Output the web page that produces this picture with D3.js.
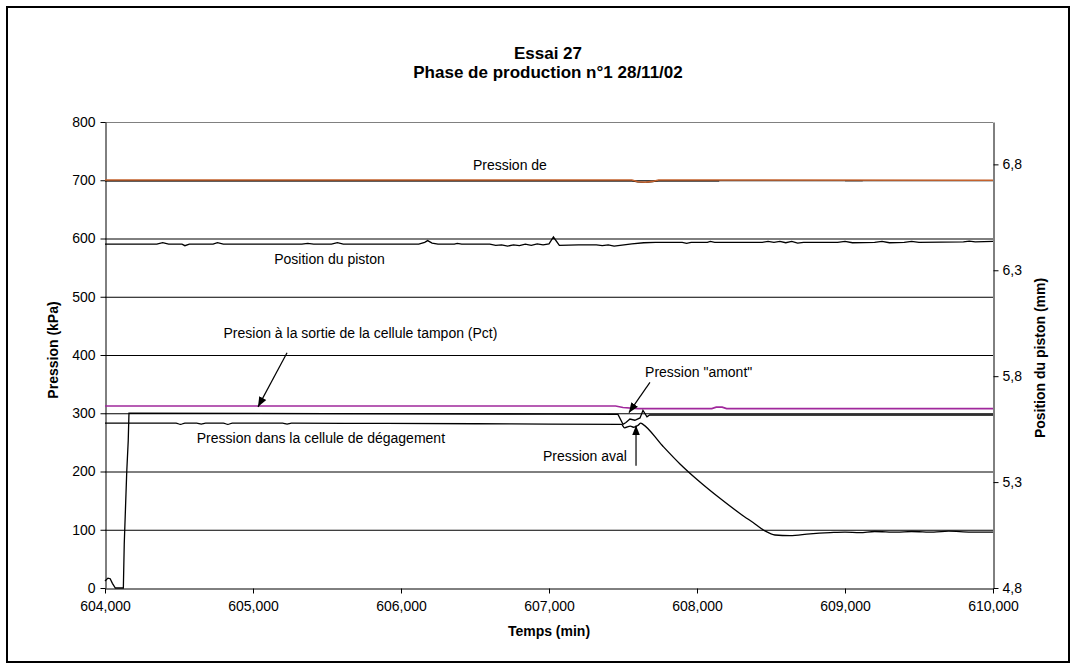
<!DOCTYPE html>
<html>
<head>
<meta charset="utf-8">
<script src="https://cdn.jsdelivr.net/npm/d3@7"></script>
<style>
  body { margin: 0; background: #fff; }
  text { font-family: "Liberation Sans", Arial, sans-serif; }
</style>
</head>
<body>
<script>
// tick values
const xTicks = [604, 605, 606, 607, 608, 609, 610];
const yTicks = [0, 100, 200, 300, 400, 500, 600, 700, 800];
const rTicks = [4.8, 5.3, 5.8, 6.3, 6.8];

// series : [temps (min), valeur]
// Pression de (orange) - kPa
const pressionDe = [[604.0, 700.5], [607.56, 700.5], [607.60, 697.5], [607.65, 696.5], [607.70, 698],
  [607.74, 700.5], [610.0, 700]];
// trace noire sous la pression de - kPa (NaN = interruption)
const pressionDeNoir = [[604.0, 699], [607.56, 699], [607.60, 697], [607.65, 696.5], [607.70, 697.5],
  [607.74, 699], [608.15, 699], [608.16, NaN], [609.0, 699.5], [609.12, 699.5]];
// Pct (magenta) - kPa
const pct = [[604.0, 312.5], [607.45, 312.5], [607.50, 310], [607.60, 308], [608.10, 308],
  [608.13, 310.5], [608.17, 310.5], [608.20, 308], [610.0, 308]];
// Pression "amont" - kPa
const amont = [[604.0, 12], [604.02, 17], [604.035, 16], [604.05, 8], [604.07, 0], [604.124, 0],
  [604.130, 75], [604.147, 200], [604.157, 253], [604.162, 300], [605.5, 299.5], [607.0, 298.5],
  [607.466, 298], [607.50, 281], [607.52, 284], [607.547, 290], [607.58, 288], [607.615, 292],
  [607.635, 305], [607.662, 294], [607.68, 297], [610.0, 297]];
// Pression aval (cellule de dégagement) - kPa
const aval = [[604.0, 283], [604.48, 283], [604.51, 281], [604.54, 283], [604.62, 283], [604.65, 281.5],
  [604.68, 283], [604.80, 283], [604.83, 281], [604.86, 283], [605.2, 283], [605.23, 281.5],
  [605.26, 283], [605.9, 282.5], [606.5, 282], [607.0, 281.5], [607.49, 281], [607.51, 275],
  [607.55, 278], [607.57, 276], [607.60, 279], [607.62, 283], [607.635, 281], [607.764, 245],
  [607.885, 213], [608.02, 182], [608.155, 154], [608.29, 128], [608.392, 110], [608.459, 98],
  [608.527, 91], [608.628, 90], [608.764, 93], [608.90, 95], [609.0, 96], [609.1, 95],
  [609.2, 97], [609.35, 96], [609.45, 97], [609.6, 96], [609.7, 97.5], [609.85, 96], [610.0, 96]];
// Position du piston - mm (axe de droite)
const piston = [[604.00, 6.423], [604.35, 6.423], [604.39, 6.430], [604.43, 6.423], [604.52, 6.423],
  [604.54, 6.416], [604.57, 6.423], [604.73, 6.423], [604.76, 6.430], [604.80, 6.423], [605.33, 6.423],
  [605.37, 6.427], [605.41, 6.423], [605.53, 6.423], [605.57, 6.430], [605.61, 6.423], [606.12, 6.423],
  [606.16, 6.432], [606.18, 6.440], [606.21, 6.428], [606.25, 6.423], [606.36, 6.423], [606.38, 6.427],
  [606.41, 6.423], [606.60, 6.423], [606.64, 6.418], [606.68, 6.420], [606.72, 6.414], [606.76, 6.420],
  [606.80, 6.416], [606.84, 6.423], [606.88, 6.418], [606.92, 6.425], [606.96, 6.420], [607.00, 6.425],
  [607.03, 6.457], [607.07, 6.418], [607.20, 6.420], [607.32, 6.420], [607.36, 6.416], [607.40, 6.420],
  [607.44, 6.414], [607.48, 6.418], [607.56, 6.425], [607.64, 6.430], [607.72, 6.432], [607.90, 6.432],
  [607.93, 6.427], [607.96, 6.432], [608.07, 6.432], [608.09, 6.436], [608.12, 6.432], [608.44, 6.432],
  [608.48, 6.436], [608.52, 6.432], [608.56, 6.436], [608.60, 6.430], [608.64, 6.436], [608.68, 6.428],
  [608.72, 6.432], [608.95, 6.432], [609.00, 6.436], [609.05, 6.430], [609.20, 6.432], [609.25, 6.436],
  [609.30, 6.430], [609.40, 6.432], [609.45, 6.436], [609.50, 6.432], [609.80, 6.434], [609.84, 6.438],
  [609.88, 6.434], [610.00, 6.436]];

// annotations (coordonnées en temps / kPa)
const labels = [
  { text: "Pression de", t: 606.736, p: 726, anchor: "middle" },
  { text: "Position du piston", t: 605.517, p: 564, anchor: "middle" },
  { text: "Presion à la sortie de la cellule tampon (Pct)", t: 605.726, p: 437, anchor: "middle" },
  { text: "Pression \"amont\"", t: 607.649, p: 370, anchor: "start" },
  { text: "Pression aval", t: 607.527, p: 227, anchor: "end" },
  { text: "Pression dans la cellule de dégagement", t: 604.62, p: 258, anchor: "start" }
];
const arrows = [
  { t1: 605.23, p1: 404, t2: 605.034, p2: 311 },
  { t1: 607.682, p1: 353, t2: 607.54, p2: 301 },
  { t1: 607.588, p1: 210, t2: 607.588, p2: 279 }
];

const width = 1078, height = 671;
const margin = { top: 122, bottom: 83, left: 105, right: 85 };

const fr = d3.formatLocale({ decimal: ",", thousands: " ", grouping: [3], currency: ["", " €"] });
const fmt3 = fr.format(".3f"), fmt1 = fr.format(".1f");

const svg = d3.select("body").append("svg").attr("width", width).attr("height", height);

svg.append("rect").attr("x", 7).attr("y", 7).attr("width", 1062).attr("height", 655)
   .attr("fill", "none").attr("stroke", "#000").attr("stroke-width", 2);

const xScale = d3.scaleLinear().domain([604, 610]).range([margin.left, width - margin.right]);
const yScale = d3.scaleLinear().domain([0, 800]).range([height - margin.bottom, margin.top]);
const rScale = d3.scaleLinear().domain([4.8, 7.0]).range([height - margin.bottom, margin.top]);

// gridlines
svg.append("g").selectAll("line").data(yTicks.filter(d => d > 0)).enter().append("line")
   .attr("x1", margin.left).attr("x2", width - margin.right)
   .attr("y1", d => yScale(d) + 0.5).attr("y2", d => yScale(d) + 0.5)
   .attr("stroke", d => d == 800 ? "#808080" : "#000").attr("stroke-width", 1);

// axes
const axisStyle = g => {
  g.selectAll("text").style("font-size", "14px").attr("fill", "#000");
  g.selectAll("line").attr("stroke", "#000");
  g.select(".domain").attr("stroke", "#000");
};
svg.append("g").attr("transform", `translate(0,${height - margin.bottom + 0.5})`)
   .call(d3.axisBottom(xScale).tickValues(xTicks).tickFormat(fmt3).tickSize(5).tickSizeOuter(0).tickPadding(8))
   .call(axisStyle);
svg.append("g").attr("transform", `translate(${margin.left + 0.5},0)`)
   .call(d3.axisLeft(yScale).tickValues(yTicks).tickSize(5).tickSizeOuter(0).tickPadding(5))
   .call(axisStyle);
svg.append("g").attr("transform", `translate(${width - margin.right + 0.5},0)`)
   .call(d3.axisRight(rScale).tickValues(rTicks).tickFormat(fmt1).tickSize(5).tickSizeOuter(0).tickPadding(4))
   .call(axisStyle);

// lines
const lineL = d3.line().defined(d => !isNaN(d[1])).x(d => xScale(d[0])).y(d => yScale(d[1]));
const lineR = d3.line().x(d => xScale(d[0])).y(d => rScale(d[1]));
const lineSmooth = d3.line().x(d => xScale(d[0])).y(d => yScale(d[1])).curve(d3.curveMonotoneX);

svg.append("path").datum(pressionDeNoir).attr("d", lineL).attr("fill", "none")
   .attr("stroke", "#000").attr("stroke-width", 1.2);
svg.append("path").datum(pressionDe).attr("d", lineL).attr("fill", "none")
   .attr("stroke", "#c4622d").attr("stroke-width", 1.6);
svg.append("path").datum(pct).attr("d", lineL).attr("fill", "none")
   .attr("stroke", "#a0289c").attr("stroke-width", 1.6);
svg.append("path").datum(amont).attr("d", lineL).attr("fill", "none")
   .attr("stroke", "#000").attr("stroke-width", 1.3);
svg.append("path").datum(aval).attr("d", lineSmooth).attr("fill", "none")
   .attr("stroke", "#000").attr("stroke-width", 1.3);
svg.append("path").datum(piston).attr("d", lineR).attr("fill", "none")
   .attr("stroke", "#000").attr("stroke-width", 1.3);

// annotations
svg.append("defs").append("marker").attr("id", "head")
   .attr("viewBox", "0 0 10 10").attr("refX", 10).attr("refY", 5)
   .attr("markerWidth", 10).attr("markerHeight", 10).attr("markerUnits", "userSpaceOnUse")
   .attr("orient", "auto")
   .append("path").attr("d", "M0,1 L10,5 L0,9 Z").attr("fill", "#000");

svg.append("g").selectAll("line").data(arrows).enter().append("line")
   .attr("x1", d => xScale(d.t1)).attr("y1", d => yScale(d.p1))
   .attr("x2", d => xScale(d.t2)).attr("y2", d => yScale(d.p2))
   .attr("stroke", "#000").attr("stroke-width", 1.2).attr("marker-end", "url(#head)");

svg.append("g").selectAll("text").data(labels).enter().append("text")
   .attr("x", d => xScale(d.t)).attr("y", d => yScale(d.p)).attr("dy", "0.35em")
   .attr("text-anchor", d => d.anchor).style("font-size", "14px").text(d => d.text);

// titles
const title = svg.append("text").attr("text-anchor", "middle").style("font-size", "17px")
   .style("font-weight", "bold").attr("x", 548);
title.append("tspan").attr("x", 548).attr("y", 59).text("Essai 27");
title.append("tspan").attr("x", 548).attr("y", 78).text("Phase de production n°1 28/11/02");

svg.append("text").attr("x", 549).attr("y", 636).attr("text-anchor", "middle")
   .style("font-size", "14px").style("font-weight", "bold").text("Temps (min)");
svg.append("text").attr("transform", "translate(58,350) rotate(-90)").attr("text-anchor", "middle")
   .style("font-size", "14px").style("font-weight", "bold").text("Pression (kPa)");
svg.append("text").attr("transform", "translate(1045,358) rotate(-90)").attr("text-anchor", "middle")
   .style("font-size", "14px").style("font-weight", "bold").text("Position du piston (mm)");
</script>
</body>
</html>
